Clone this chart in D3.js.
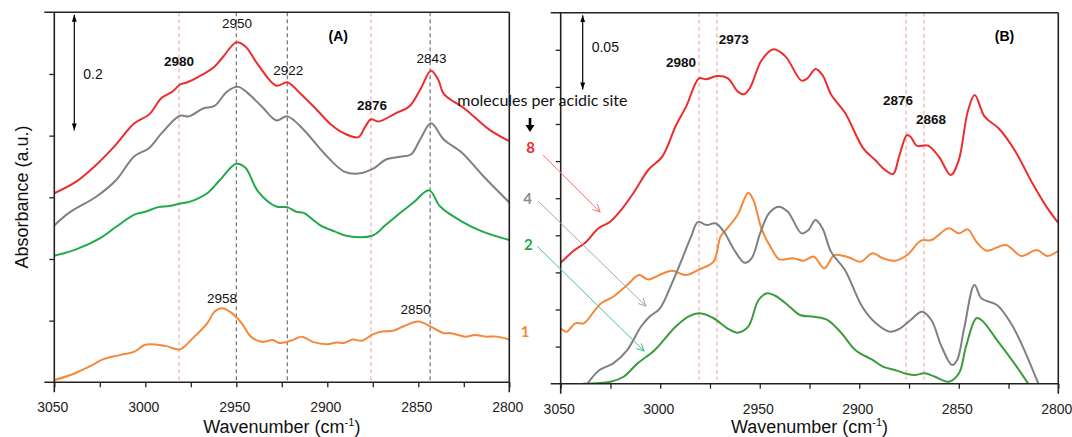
<!DOCTYPE html>
<html>
<head>
<meta charset="utf-8">
<script src="https://cdn.jsdelivr.net/npm/d3@7"></script>
<style>
  body { margin: 0; background: #fff; }
  svg { font-family: "Liberation Sans", Arial, sans-serif; }
</style>
</head>
<body>
<script>
// x ticks every 25 cm-1, labels every 50
var xTicks = d3.range(3050, 2799, -25);

// panel (A) spectra, [wavenumber, absorbance]
var specA_8 = [[3050,.327],[3038,.347],[3027,.376],[3017,.408],[3006,.448],[2998,.463],[2991,.492],[2985,.503],[2981,.515],[2977,.519],[2971,.528],[2962,.546],[2957,.564],[2950,.588],[2945,.581],[2938,.549],[2928,.513],[2922,.519],[2915,.500],[2906,.472],[2898,.446],[2891,.431],[2883,.424],[2879,.443],[2876,.455],[2872,.451],[2862,.466],[2855,.477],[2849,.506],[2843,.539],[2839,.523],[2836,.499],[2824,.472],[2811,.437],[2800,.417]];
var specA_4 = [[3050,.271],[3042,.293],[3027,.321],[3016,.350],[3006,.391],[2998,.405],[2991,.431],[2981,.461],[2976,.460],[2968,.474],[2962,.478],[2955,.503],[2949,.511],[2944,.501],[2936,.477],[2928,.453],[2922,.460],[2913,.437],[2902,.397],[2891,.365],[2883,.361],[2874,.371],[2868,.385],[2860,.390],[2854,.394],[2849,.420],[2843,.448],[2836,.420],[2826,.397],[2815,.359],[2800,.311]];
var specA_2 = [[3050,.219],[3038,.230],[3025,.249],[3016,.269],[3006,.290],[3000,.295],[2993,.303],[2987,.305],[2981,.309],[2975,.313],[2966,.327],[2959,.350],[2950,.378],[2945,.371],[2938,.330],[2928,.304],[2922,.303],[2917,.295],[2913,.293],[2904,.272],[2896,.261],[2889,.253],[2875,.254],[2868,.272],[2860,.293],[2853,.310],[2844,.332],[2838,.304],[2826,.278],[2815,.261],[2800,.246]];
var specA_1 = [[3050,.004],[3040,.014],[3029,.030],[3023,.040],[3014,.047],[3006,.053],[3000,.065],[2989,.063],[2981,.057],[2974,.076],[2966,.102],[2962,.122],[2958,.128],[2953,.121],[2947,.102],[2942,.079],[2936,.070],[2930,.073],[2926,.068],[2919,.073],[2914,.079],[2908,.070],[2900,.066],[2895,.069],[2891,.068],[2886,.074],[2881,.072],[2875,.083],[2870,.088],[2864,.089],[2858,.097],[2850,.105],[2843,.096],[2836,.085],[2832,.085],[2824,.079],[2819,.082],[2813,.079],[2807,.079],[2800,.074]];

// panel (B) spectra
var specB_8 = [[3050,.0815],[3043,.0901],[3038,.0946],[3031,.1047],[3025,.1093],[3019,.1182],[3013,.1294],[3006,.1440],[2999,.1530],[2992,.1743],[2987,.1867],[2980.5,.2058],[2977,.2051],[2971.5,.2073],[2966,.2058],[2961,.1968],[2958,.1950],[2955,.1991],[2949,.2181],[2943,.2253],[2937,.2204],[2929,.2042],[2926,.2058],[2922,.2121],[2918.5,.2080],[2914,.1945],[2907,.1822],[2898,.1586],[2892,.1507],[2887,.1440],[2883,.1413],[2880,.1530],[2876,.1676],[2874,.1660],[2871,.1602],[2865.5,.1604],[2860,.1530],[2854,.1406],[2850,.1507],[2845.5,.1833],[2842,.1945],[2837,.1799],[2830,.1721],[2822,.1575],[2813,.1350],[2806,.1193],[2800,.1083]];
var specB_4 = [[3036.6,0],[3030.5,.0092],[3023.6,.0137],[3016.6,.0227],[3009.7,.0384],[3005.4,.0451],[3000.1,.0508],[2994.1,.0677],[2988.9,.0845],[2984.5,.0991],[2981,.1090],[2976.7,.1069],[2972.3,.1081],[2968,.1024],[2962.8,.0901],[2957.6,.0815],[2954.1,.0845],[2949.8,.1013],[2945.4,.1148],[2940.6,.1193],[2935.9,.1159],[2929,.1013],[2925.5,.1036],[2922,.1103],[2918.5,.1047],[2914.2,.0890],[2907.2,.0766],[2898.5,.0519],[2891.6,.0407],[2884.6,.0350],[2879.4,.0373],[2874.2,.0429],[2868.5,.0485],[2863.8,.0429],[2858.6,.0249],[2853.4,.0126],[2850.8,.0160],[2847.3,.0373],[2842.1,.0665],[2838.6,.0575],[2830.8,.0530],[2823.8,.0407],[2818.6,.0272],[2810,0]];
var specB_2 = [[3039,0],[3025,.0013],[3018.4,.0047],[3011.4,.0137],[3002.7,.0227],[2992.3,.0384],[2985.4,.0456],[2980.2,.0474],[2973.2,.0441],[2966.3,.0373],[2961,.0344],[2955.8,.0384],[2950.6,.0564],[2946.3,.0609],[2942,.0591],[2935,.0519],[2929.8,.0463],[2922.8,.0451],[2915.9,.0429],[2908.9,.0340],[2902,.0227],[2893.3,.0160],[2888.1,.0115],[2881.1,.0088],[2875.9,.0065],[2871.6,.0059],[2867.2,.0070],[2862,.0047],[2855.1,.0013],[2849.9,.0070],[2846.4,.0249],[2841.2,.0441],[2838.6,.0429],[2830.8,.0294],[2822.1,.0137],[2815.1,0]];
var specB_1 = [[3050,.0373],[3047,.0350],[3042.7,.0407],[3038.4,.0407],[3034,.0474],[3029.7,.0542],[3023.6,.0586],[3016.6,.0665],[3010.6,.0732],[3006.2,.0703],[2999.3,.0739],[2994.1,.0761],[2987.1,.0732],[2980.2,.0771],[2973.2,.0822],[2969.7,.0991],[2966.3,.1047],[2961,.1140],[2955.8,.1287],[2953.2,.1238],[2948.9,.1036],[2943.7,.0901],[2940.2,.0838],[2933.3,.0845],[2928,.0829],[2922.8,.0856],[2917.6,.0778],[2912.4,.0867],[2905.5,.0852],[2899.4,.0822],[2893.3,.0879],[2888.1,.0845],[2882,.0829],[2875.9,.0867],[2869,.0964],[2863.8,.0968],[2855.1,.1047],[2849.9,.1013],[2845.5,.1040],[2841.2,.0957],[2836,.0896],[2826.4,.0935],[2818.6,.0861],[2810.8,.0901],[2805.6,.0861],[2800,.0896]];

// dashed guide positions (cm-1)
var guidesA_red = [2981.5, 2876];
var guidesA_black = [2950, 2922, 2843.5];
var guidesB_red = [2980.5, 2971.5, 2876.5, 2867.5];

// peak labels: text, wavenumber, absorbance where the label sits, bold
var labelsA = [["2980",2981.5,.547,1],["2950",2949.6,.612,0],["2922",2921.4,.532,0],["2876",2875.4,.471,1],["2843",2842.7,.553,0],["2958",2957.9,.138,0],["2850",2851.5,.118,0]];
var labelsB = [["2980",2989.5,.2137,1],["2973",2963,.2289,1],["2876",2880.5,.1878,1],["2868",2864,.1752,1]];

// molecules per acidic site
var loadings = ["8", "4", "2", "1"];

var colors = {red: "#ee2c2c", gray: "#808080", greenA: "#21aa4a", greenB: "#3c9b3a", orange: "#f5883a"};

var svgWidth = 1072, svgHeight = 437;
var svg = d3.select("body").append("svg")
    .attr("width", svgWidth)
    .attr("height", svgHeight);
var defs = svg.append("defs");

// filled head for scale bars
defs.append("marker")
    .attr("id", "tri")
    .attr("viewBox", "0 0 10 10")
    .attr("refX", 10).attr("refY", 5)
    .attr("markerWidth", 7).attr("markerHeight", 7)
    .attr("markerUnits", "userSpaceOnUse")
    .attr("orient", "auto-start-reverse")
    .append("path").attr("d", "M0,1.5L10,5L0,8.5Z").attr("fill", "#000");

// open heads for legend pointers
function openHead(id, col) {
    defs.append("marker")
        .attr("id", id)
        .attr("viewBox", "0 0 10 10")
        .attr("refX", 9).attr("refY", 5)
        .attr("markerWidth", 9).attr("markerHeight", 9)
        .attr("markerUnits", "userSpaceOnUse")
        .attr("orient", "auto")
        .append("path").attr("d", "M1,1L9,5L1,9")
        .attr("fill", "none").attr("stroke", col).attr("stroke-width", 1.2);
}
openHead("hRed", "#f07d7d");
openHead("hGray", "#a8a8a8");
openHead("hGreen", "#4fbf95");

var line = function(x, y) {
    return d3.line()
        .x(d => x(d[0]))
        .y(d => y(d[1]))
        .curve(d3.curveCatmullRom.alpha(0.5));
};

function drawPanel(p) {
    var x = d3.scaleLinear().domain([3050, 2800]).range([p.left, p.right]);
    var y = d3.scaleLinear().domain([0, p.yMax]).range([p.bottom, p.top]);
    var g = svg.append("g");

    defs.append("clipPath").attr("id", p.id)
        .append("rect")
        .attr("x", p.left).attr("y", p.top)
        .attr("width", p.right - p.left).attr("height", p.bottom - p.top);

    // dashed guides
    p.guides.forEach(function(gd) {
        g.selectAll(null).data(gd.values).enter().append("line")
            .attr("x1", d => x(d)).attr("x2", d => x(d))
            .attr("y1", p.top).attr("y2", p.bottom - p.guideGap)
            .attr("stroke", gd.color)
            .attr("stroke-width", 1)
            .attr("stroke-dasharray", "4,3");
    });

    // spectra
    var plot = g.append("g").attr("clip-path", `url(#${p.id})`);
    p.series.forEach(function(s) {
        plot.append("path")
            .datum(s.data)
            .attr("d", line(x, y))
            .attr("fill", "none")
            .attr("stroke", s.color)
            .attr("stroke-width", 2);
    });

    // axes
    var bottomAxis = d3.axisBottom(x)
        .tickValues(xTicks)
        .tickSize(5)
        .tickPadding(15)
        .tickFormat(d => d % 50 === 0 ? d : "");
    var xg = g.append("g")
        .attr("transform", `translate(0, ${p.bottom})`)
        .attr("color", "#222")
        .call(bottomAxis);
    xg.select(".domain").remove();
    xg.attr("font-size", 14).attr("font-family", "'Liberation Sans', Arial, sans-serif");
    xg.selectAll("line").attr("stroke-width", 1.3);
    xg.selectAll("text").attr("dx", -2);

    var step = p.yMax / p.nTicks;
    var leftAxis = d3.axisLeft(y)
        .tickValues(d3.range(1, p.nTicks).map(i => i * step))
        .tickSize(5)
        .tickFormat("");
    var yg = g.append("g")
        .attr("transform", `translate(${p.left}, 0)`)
        .attr("color", "#222")
        .call(leftAxis);
    yg.select(".domain").remove();
    yg.selectAll("line").attr("stroke-width", 1.3);

    // frame
    var frame = [
        [p.left - 10, p.bottom, p.right, p.bottom],
        [p.left - 10, p.top, p.right, p.top],
        [p.left, p.top, p.left, p.bottom + 10],
        [p.right, p.top, p.right, p.bottom + 10]
    ];
    g.selectAll(null).data(frame).enter().append("line")
        .attr("x1", d => d[0]).attr("y1", d => d[1])
        .attr("x2", d => d[2]).attr("y2", d => d[3])
        .attr("stroke", "#222")
        .attr("stroke-width", 1.6);

    // peak labels
    g.selectAll(null).data(p.labels).enter().append("text")
        .attr("x", d => x(d[1]))
        .attr("y", d => y(d[2]))
        .attr("text-anchor", "middle")
        .attr("font-size", 13.5)
        .attr("font-weight", d => d[3] ? "bold" : "normal")
        .attr("fill", "#111")
        .text(d => d[0]);

    // panel tag
    g.append("text")
        .attr("x", x(p.tag[1])).attr("y", y(p.tag[2]))
        .attr("text-anchor", "middle")
        .attr("font-size", 14)
        .attr("font-weight", "bold")
        .text(p.tag[0]);

    // scale bar
    var barTop = p.top + 2.5;
    var barBottom = barTop + (y(0) - y(p.bar));
    g.append("line")
        .attr("x1", p.left + p.barDx).attr("x2", p.left + p.barDx)
        .attr("y1", barTop).attr("y2", barBottom)
        .attr("stroke", "#000").attr("stroke-width", 1.2)
        .attr("marker-start", "url(#tri)")
        .attr("marker-end", "url(#tri)");
    g.append("text")
        .attr("x", p.left + p.barDx + 9)
        .attr("y", p.barTextY)
        .attr("font-size", 14)
        .attr("fill", "#111")
        .text(p.bar);

    // axis title
    var title = g.append("text")
        .attr("x", (p.left + p.right) / 2)
        .attr("y", 433)
        .attr("text-anchor", "middle")
        .attr("font-size", 18)
        .attr("fill", "#111");
    title.append("tspan").text("Wavenumber (cm");
    title.append("tspan").attr("dy", -7).attr("font-size", 11).text("-1");
    title.append("tspan").attr("dy", 7).text(")");
}

drawPanel({
    id: "clipA", left: 54.3, right: 509.3, top: 12.3, bottom: 382.3,
    yMax: 0.64, nTicks: 6, bar: 0.2, barDx: 20, barTextY: 79, guideGap: 0,
    guides: [{values: guidesA_red, color: "#f39a9a"}, {values: guidesA_black, color: "#555"}],
    series: [
        {data: specA_1, color: colors.orange},
        {data: specA_2, color: colors.greenA},
        {data: specA_4, color: colors.gray},
        {data: specA_8, color: colors.red}
    ],
    labels: labelsA,
    tag: ["(A)", 2894, 0.591]
});

drawPanel({
    id: "clipB", left: 560.7, right: 1058.3, top: 12.7, bottom: 383.7,
    yMax: 0.25, nTicks: 10, bar: 0.05, barDx: 22, barTextY: 51.5, guideGap: 4,
    guides: [{values: guidesB_red, color: "#f39a9a"}],
    series: [
        {data: specB_1, color: colors.orange},
        {data: specB_2, color: colors.greenB},
        {data: specB_4, color: colors.gray},
        {data: specB_8, color: colors.red}
    ],
    labels: labelsB,
    tag: ["(B)", 2827, 0.231]
});

// y title
svg.append("text")
    .attr("transform", "translate(28, 197) rotate(-90)")
    .attr("text-anchor", "middle")
    .attr("font-size", 18)
    .attr("fill", "#111")
    .text("Absorbance (a.u.)");

// loading legend between the panels
svg.append("text")
    .attr("x", 457.3).attr("y", 105.7)
    .attr("font-family", "Lato, 'Open Sans', sans-serif")
    .attr("font-size", 16)
    .attr("fill", "#111")
    .text("molecules per acidic site");

svg.append("line")
    .attr("x1", 530).attr("x2", 530)
    .attr("y1", 118).attr("y2", 126)
    .attr("stroke", "#000").attr("stroke-width", 2.6);
svg.append("path")
    .attr("d", "M525.5,125L534.5,125L530,132Z")
    .attr("fill", "#000");

var legendPos = [
    {x: 530.5, y: 153, c: colors.red},
    {x: 527.7, y: 204, c: "#8c8c8c"},
    {x: 528.3, y: 250, c: "#21aa4a"},
    {x: 525, y: 336.5, c: colors.orange}
];
svg.selectAll(null).data(loadings).enter().append("text")
    .attr("x", (d, i) => legendPos[i].x)
    .attr("y", (d, i) => legendPos[i].y)
    .attr("text-anchor", "middle")
    .attr("font-family", "Lato, 'Open Sans', sans-serif")
    .attr("font-weight", "bold")
    .attr("font-size", 15)
    .attr("fill", (d, i) => legendPos[i].c)
    .text(d => d);

var pointers = [
    [543, 155, 600, 212, "#f07d7d", "hRed"],
    [538, 201, 645.8, 306, "#a8a8a8", "hGray"],
    [537, 246, 644, 351, "#4fbf95", "hGreen"]
];
svg.selectAll(null).data(pointers).enter().append("line")
    .attr("x1", d => d[0]).attr("y1", d => d[1])
    .attr("x2", d => d[2]).attr("y2", d => d[3])
    .attr("stroke", d => d[4])
    .attr("stroke-width", 1)
    .attr("marker-end", d => `url(#${d[5]})`);
</script>
</body>
</html>
